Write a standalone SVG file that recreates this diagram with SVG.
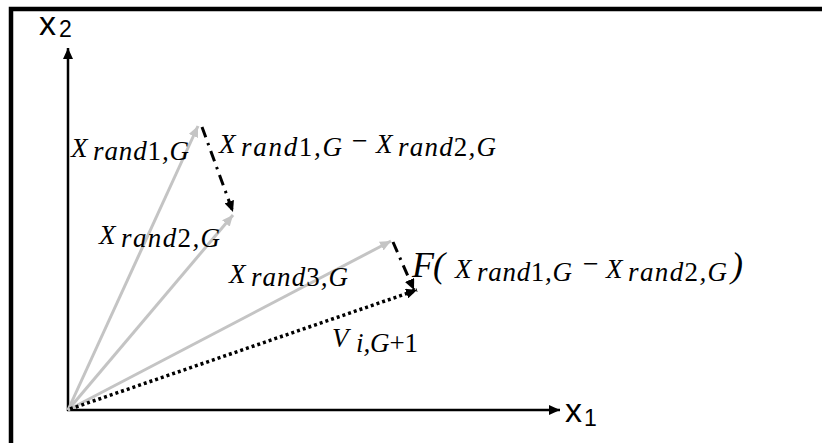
<svg xmlns="http://www.w3.org/2000/svg" width="822" height="443" viewBox="0 0 822 443">
<style>
.m{font-family:"Liberation Serif","DejaVu Serif",serif;font-style:italic;fill:#000;}
.up{font-style:normal;}
.ax{font-family:"Liberation Sans",Arial,sans-serif;fill:#000;}
.gray{stroke:#c4c4c4;stroke-width:3;fill:none;}
.dd{stroke:#000;stroke-width:3;fill:none;stroke-dasharray:11 6 2.5 6;}
.dot{stroke:#000;stroke-width:3.5;fill:none;stroke-dasharray:3 3;}
.axis{stroke:#000;stroke-width:2.5;fill:none;}
</style>
<defs>
<marker id="ab" markerUnits="userSpaceOnUse" markerWidth="12" markerHeight="10" refX="11" refY="5" orient="auto"><path d="M0,0 L11,5 L0,10 z" fill="#000"/></marker>
<marker id="ag" markerUnits="userSpaceOnUse" markerWidth="12" markerHeight="10" refX="11" refY="5" orient="auto"><path d="M0,0 L11,5 L0,10 z" fill="#c4c4c4"/></marker>
</defs>
<rect width="822" height="443" fill="#fff"/>
<path d="M11,450 V9 H830" stroke="#000" stroke-width="4.5" fill="none"/>
<g id="axes">
<line class="axis" x1="68" y1="411" x2="68" y2="48" marker-end="url(#ab)"/>
<line class="axis" x1="67" y1="410" x2="560" y2="410" marker-end="url(#ab)"/>
<text class="ax" x="39" y="35" font-size="34">x</text><text class="ax" x="59" y="37" font-size="23">2</text>
<text class="ax" x="565" y="422" font-size="34">x</text><text class="ax" x="584" y="426" font-size="23">1</text>
</g>
<g id="connectors">
<line id="v1" class="gray" x1="68" y1="410" x2="198" y2="126" marker-end="url(#ag)"/>
<line id="v2" class="gray" x1="68" y1="410" x2="233" y2="215" marker-end="url(#ag)"/>
<line id="v3" class="gray" x1="68" y1="410" x2="391" y2="241" marker-end="url(#ag)"/>
<line id="d1" class="dd" x1="202" y1="127" x2="233" y2="212" marker-end="url(#ab)"/>
<line id="d2" class="dd" x1="393" y1="242" x2="414" y2="290" marker-end="url(#ab)"/>
<line id="vi" class="dot" x1="70" y1="409" x2="417" y2="290" marker-end="url(#ab)"/>
</g>
<g id="label-xr1">
<text class="m" x="71" y="157" font-size="27">X</text>
<text class="m" x="93" y="160" font-size="27" textLength="96" lengthAdjust="spacing">rand<tspan class="up">1</tspan>,G</text>
</g>
<g id="label-diff">
<text class="m" x="219" y="153" font-size="27">X</text>
<text class="m" x="241" y="156" font-size="27" textLength="101" lengthAdjust="spacing">rand<tspan class="up">1</tspan>,G</text>
<text class="m" x="350" y="150" font-size="28" font-style="normal">−</text>
<text class="m" x="376" y="153" font-size="27">X</text>
<text class="m" x="398" y="156" font-size="27" textLength="98" lengthAdjust="spacing">rand<tspan class="up">2</tspan>,G</text>
</g>
<g id="label-xr2">
<text class="m" x="99" y="244" font-size="27">X</text>
<text class="m" x="121" y="247" font-size="27" textLength="99" lengthAdjust="spacing">rand<tspan class="up">2</tspan>,G</text>
</g>
<g id="label-xr3">
<text class="m" x="229" y="283" font-size="27">X</text>
<text class="m" x="251" y="286" font-size="27" textLength="97" lengthAdjust="spacing">rand<tspan class="up">3</tspan>,G</text>
</g>
<g id="label-F">
<text class="m" x="412" y="277" font-size="36">F</text>
<text class="m" x="433" y="277" font-size="36" font-style="normal">(</text>
<text class="m" x="455" y="278" font-size="27">X</text>
<text class="m" x="477" y="281" font-size="27" textLength="95" lengthAdjust="spacing">rand<tspan class="up">1</tspan>,G</text>
<text class="m" x="581" y="273" font-size="28" font-style="normal">−</text>
<text class="m" x="606" y="278" font-size="27">X</text>
<text class="m" x="628" y="281" font-size="27" textLength="99" lengthAdjust="spacing">rand<tspan class="up">2</tspan>,G</text>
<text class="m" x="731" y="277" font-size="36" font-style="normal">)</text>
</g>
<g id="label-V">
<text class="m" x="332" y="347" font-size="27">V</text>
<text class="m" x="356" y="352" font-size="27" textLength="62" lengthAdjust="spacing">i,G<tspan class="up">+1</tspan></text>
</g>
</svg>
